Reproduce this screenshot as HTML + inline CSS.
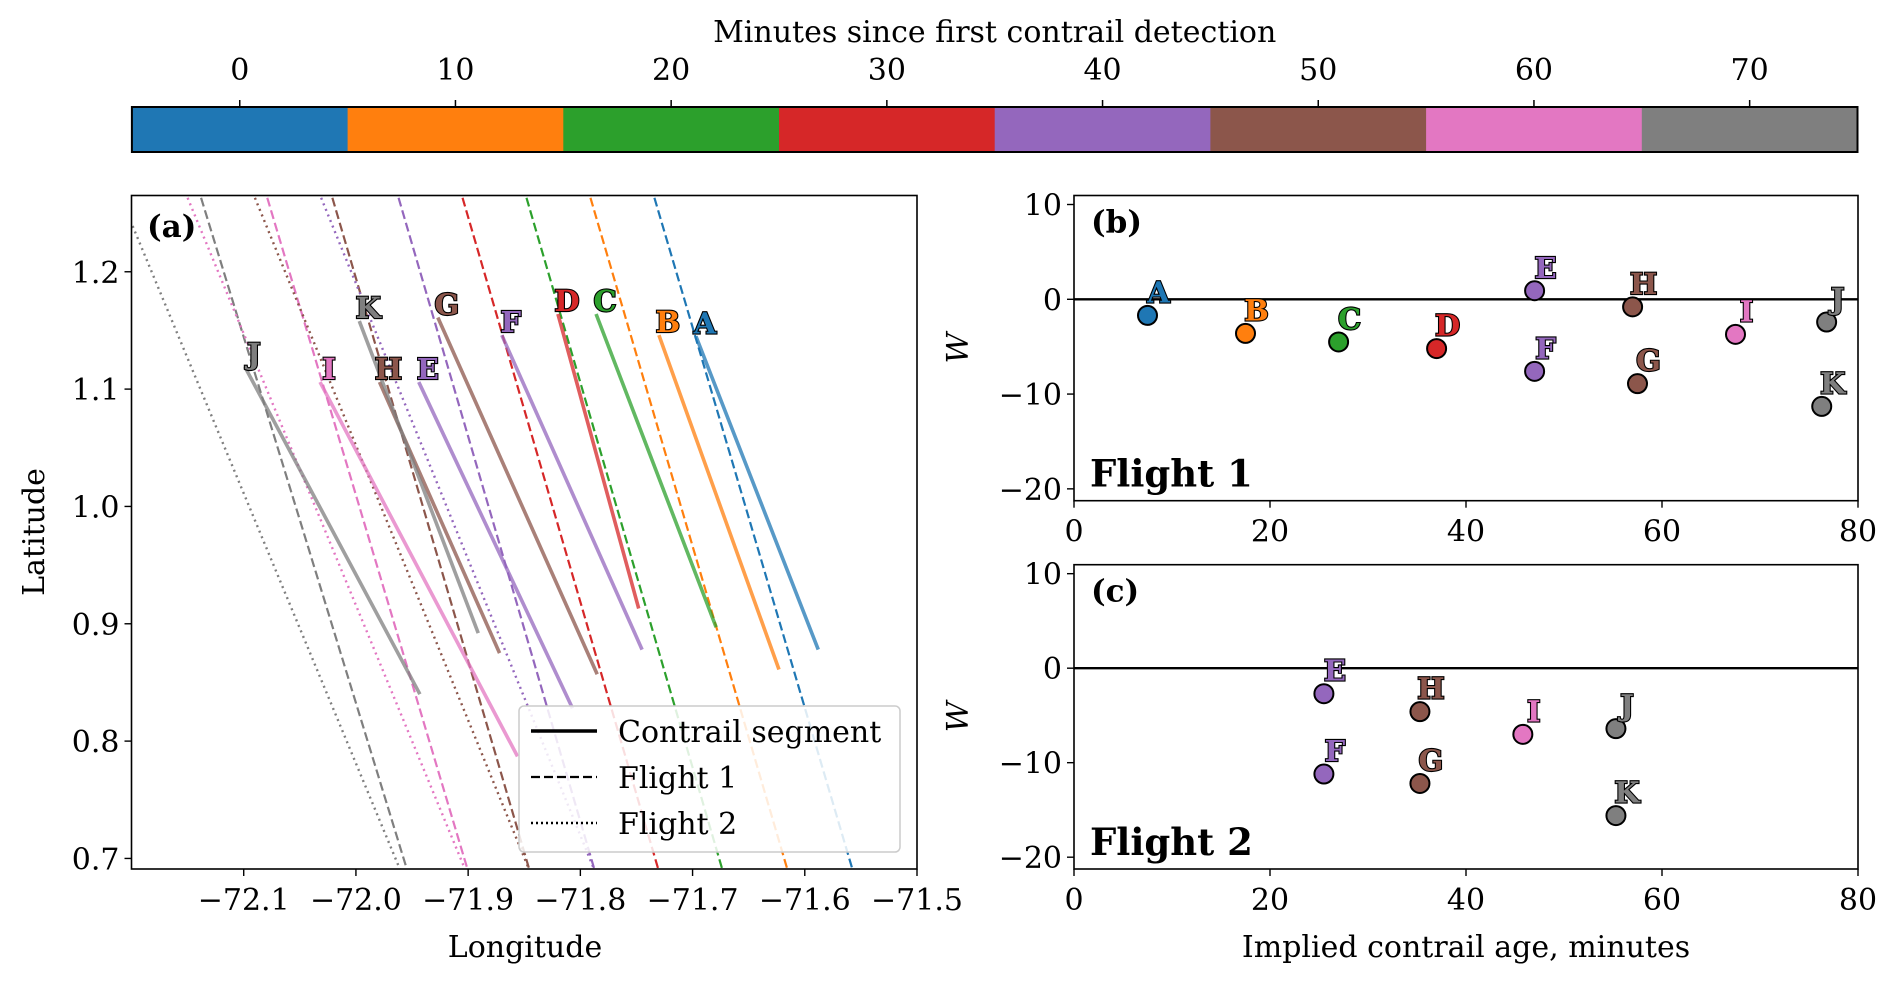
<!DOCTYPE html>
<html><head><meta charset="utf-8"><style>
html,body{margin:0;padding:0;background:#fff;}
svg{display:block;font-family:"DejaVu Serif","Liberation Serif",serif;}
.lab{font-weight:bold;paint-order:stroke;stroke:#000;stroke-width:2.2px;}
</style></head><body>
<svg id="fig" width="1892" height="984" viewBox="0 0 1892 984" xmlns="http://www.w3.org/2000/svg"></svg>
<script>
// ---------- data ----------
const letters = ["A","B","C","D","E","F","G","H","I","J","K"];
const letterColors = ["#1f77b4","#ff7f0e","#2ca02c","#d62728","#9467bd","#9467bd","#8c564b","#8c564b","#e377c2","#7f7f7f","#7f7f7f"];
const segLon1 = [-71.697,-71.730,-71.786,-71.820,-71.944,-71.870,-71.927,-71.979,-72.032,-72.099,-71.997];
const segLat1 = [1.145,1.146,1.164,1.164,1.106,1.146,1.161,1.106,1.106,1.119,1.158];
const segLon2 = [-71.588,-71.623,-71.679,-71.748,-71.807,-71.745,-71.785,-71.872,-71.856,-71.943,-71.891];
const segLat2 = [0.878,0.861,0.897,0.913,0.828,0.878,0.857,0.875,0.787,0.840,0.892];
const cbColors = ["#1f77b4","#ff7f0e","#2ca02c","#d62728","#9467bd","#8c564b","#e377c2","#7f7f7f"];
const f1Colors = ["#1f77b4","#ff7f0e","#2ca02c","#d62728","#9467bd","#8c564b","#e377c2","#7f7f7f"];
const f1TopLon = [-71.734,-71.791,-71.848,-71.905,-71.962,-72.021,-72.079,-72.138];
const f1BotLon = [-71.557,-71.615,-71.673,-71.730,-71.787,-71.845,-71.900,-71.954];
const f2Colors = ["#9467bd","#8c564b","#e377c2","#7f7f7f"];
const f2TopLon = [-72.031,-72.090,-72.150,-72.199];
const f2TopLat = [1.263,1.263,1.263,1.239];
const f2BotLon = [-71.787,-71.845,-71.902,-71.960];
const lineTopLat = 1.263, lineBotLat = 0.689;
const bAge = [7.5,17.5,27,37,47,47,57.5,57,67.5,76.8,76.3];
const bW = [-1.7,-3.6,-4.5,-5.2,0.9,-7.6,-8.9,-0.8,-3.7,-2.4,-11.3];
const cLetters = ["E","F","G","H","I","J","K"];
const cColors = ["#9467bd","#9467bd","#8c564b","#8c564b","#e377c2","#7f7f7f","#7f7f7f"];
const cAge = [25.5,25.5,35.3,35.3,45.8,55.3,55.3];
const cW = [-2.7,-11.2,-12.2,-4.6,-7,-6.4,-15.6];
const cbTicks = [0,10,20,30,40,50,60,70];
const lonTicks = [-72.1,-72.0,-71.9,-71.8,-71.7,-71.6,-71.5];
const latTicks = [0.7,0.8,0.9,1.0,1.1,1.2];
const ageTicks = [0,20,40,60,80];
const wTicks = [-20,-10,0,10];

// ---------- helpers ----------
const svg = document.getElementById('fig');
const NS = "http://www.w3.org/2000/svg";
const FS = 30;
function el(tag, attrs, parent){const e=document.createElementNS(NS,tag);for(const k in attrs)e.setAttribute(k,attrs[k]);(parent||svg).appendChild(e);return e;}
function txt(s, attrs, parent){const e=el('text',attrs,parent);e.textContent=s;return e;}
function fmt(v){return (v<0?"\u2212":"")+Math.abs(v).toString();}
function fmt1(v){return (v<0?"\u2212":"")+Math.abs(v).toFixed(1);}

// ---------- colorbar ----------
const cbL=131.9, cbR=1857.5, cbT=107, cbB=152;
const cbX = v => cbL + (v+5)/80*(cbR-cbL);
const cbG = el('g',{});


cbColors.forEach((c,i)=>{
  const r=el('rect',{x:cbX(i*10-5),y:cbT,width:cbX(i*10+5)-cbX(i*10-5)+0.5,height:cbB-cbT,fill:c},cbG);
  
  
});
el('rect',{x:cbL,y:cbT,width:cbR-cbL,height:cbB-cbT,fill:'none',stroke:'#000','stroke-width':2},cbG);
cbTicks.forEach(t=>{
  el('line',{x1:cbX(t),x2:cbX(t),y1:cbT,y2:cbT-7,stroke:'#000','stroke-width':1.5},cbG);
  const tl=txt(String(t),{x:cbX(t),y:80,'font-size':FS,'text-anchor':'middle'},cbG);
  
  
});
const cbt=txt("Minutes since first contrail detection",{x:(cbL+cbR)/2,y:42,'font-size':FS,'text-anchor':'middle'},cbG);



// ---------- panel a ----------
const aL=131.5,aR=917,aT=195.5,aB=869;
const aLon0=-72.2,aLon1=-71.5,aLat0=0.691,aLat1=1.265;
const ax = v => aL + (v-aLon0)/(aLon1-aLon0)*(aR-aL);
const ay = v => aB - (v-aLat0)/(aLat1-aLat0)*(aB-aT);
const pa = el('g',{});


const cp = el('clipPath',{id:'clipA'},pa);
el('rect',{x:aL,y:aT,width:aR-aL,height:aB-aT},cp);
const aIn = el('g',{'clip-path':'url(#clipA)'},pa);
f1Colors.forEach((c,i)=>{
  const l=el('line',{x1:ax(f1TopLon[i]),y1:ay(lineTopLat),x2:ax(f1BotLon[i]),y2:ay(lineBotLat),stroke:c,'stroke-width':2.2,'stroke-dasharray':'9,4'},aIn);
  
  
});
f2Colors.forEach((c,i)=>{
  const l=el('line',{x1:ax(f2TopLon[i]),y1:ay(f2TopLat[i]),x2:ax(f2BotLon[i]),y2:ay(lineBotLat),stroke:c,'stroke-width':2.4,'stroke-dasharray':'2,4'},aIn);
  
  
});
letters.forEach((L,i)=>{
  const l=el('line',{x1:ax(segLon1[i]),y1:ay(segLat1[i]),x2:ax(segLon2[i]),y2:ay(segLat2[i]),stroke:letterColors[i],'stroke-width':3.6,'stroke-opacity':0.75},aIn);
  
  
});
letters.forEach((L,i)=>{
  const t=txt(L,{x:ax(segLon1[i])+9,y:ay(segLat1[i])-3,'font-size':29,'text-anchor':'middle',fill:letterColors[i],class:'lab'},pa);
  
  
});
el('rect',{x:aL,y:aT,width:aR-aL,height:aB-aT,fill:'none',stroke:'#000','stroke-width':1.6},pa);
lonTicks.forEach(t=>{
  el('line',{x1:ax(t),x2:ax(t),y1:aB,y2:aB+7,stroke:'#000','stroke-width':1.4},pa);
  const tl=txt(fmt1(t),{x:ax(t),y:aB+41,'font-size':FS,'text-anchor':'middle'},pa);
  
  
});
latTicks.forEach(t=>{
  el('line',{x1:aL,x2:aL-7,y1:ay(t),y2:ay(t),stroke:'#000','stroke-width':1.4},pa);
  const tl=txt(t.toFixed(1),{x:aL-12,y:ay(t)+11,'font-size':FS,'text-anchor':'end'},pa);
  
  
});
const lt=txt("(a)",{x:147,y:237,'font-size':31,'font-weight':'bold'},pa);


const xt=txt("Longitude",{x:525,y:957,'font-size':FS,'text-anchor':'middle'},pa);


const yt=txt("Latitude",{x:0,y:0,'font-size':FS,'text-anchor':'middle',transform:'translate(44,532) rotate(-90)'},pa);


// legend
const lg=el('g',{},pa);


el('rect',{x:519,y:706,width:381,height:146,rx:5,fill:'#fff','fill-opacity':0.85,stroke:'#ccc','stroke-width':1.5},lg);
const legY=[731,777,823], legLab=["Contrail segment","Flight 1","Flight 2"], legDash=['none','9,4','2,3'], legW=[3.6,2.2,2.4];
legLab.forEach((s,i)=>{
  el('line',{x1:531,x2:597,y1:legY[i],y2:legY[i],stroke:'#000','stroke-width':legW[i],'stroke-dasharray':legDash[i]},lg);
  const t=txt(s,{x:618,y:legY[i]+11,'font-size':FS},lg);
  
  
});

// ---------- panels b & c ----------
function scatterPanel(name, T, B, labs, cols, ages, ws, tag, flight, showXTitle){
  const L=1074,R=1858, w0=-21.25, w1=10.95;
  const sx = v => L + v/80*(R-L);
  const sy = v => B - (v-w0)/(w1-w0)*(B-T);
  const g=el('g',{});
  
  
  el('line',{x1:L,x2:R,y1:sy(0),y2:sy(0),stroke:'#000','stroke-width':2.4},g);
  labs.forEach((Lb,i)=>{
    const c=el('circle',{cx:sx(ages[i]),cy:sy(ws[i]),r:9.5,fill:cols[i],stroke:'#000','stroke-width':2},g);
    
    
    const t=txt(Lb,{x:sx(ages[i])+11,y:sy(ws[i])-13,'font-size':29,'text-anchor':'middle',fill:cols[i],class:'lab'},g);
    
    
  });
  el('rect',{x:L,y:T,width:R-L,height:B-T,fill:'none',stroke:'#000','stroke-width':1.6},g);
  ageTicks.forEach(t=>{
    el('line',{x1:sx(t),x2:sx(t),y1:B,y2:B+7,stroke:'#000','stroke-width':1.4},g);
    const tl=txt(String(t),{x:sx(t),y:B+41,'font-size':FS,'text-anchor':'middle'},g);
    
    
  });
  wTicks.forEach(t=>{
    el('line',{x1:L,x2:L-7,y1:sy(t),y2:sy(t),stroke:'#000','stroke-width':1.4},g);
    const tl=txt(fmt(t),{x:L-12,y:sy(t)+11,'font-size':FS,'text-anchor':'end'},g);
    
    
  });
  const tg=txt(tag,{x:1091,y:T+37,'font-size':31,'font-weight':'bold'},g);
  
  
  const fl=txt(flight,{x:1090,y:B-14,'font-size':37,'font-weight':'bold'},g);
  
  
  const yl=txt("W",{x:0,y:0,'font-size':FS,'font-style':'italic','text-anchor':'middle',transform:'translate(968,'+((T+B)/2)+') rotate(-90)'},g);
  
  
  if(showXTitle){
    const xl=txt("Implied contrail age, minutes",{x:(L+R)/2,y:957,'font-size':FS,'text-anchor':'middle'},g);
    
    
  }
}
scatterPanel('panel-b-flight1',195.5,500.7,letters,letterColors,bAge,bW,"(b)","Flight 1",false);
scatterPanel('panel-c-flight2',564.7,869,cLetters,cColors,cAge,cW,"(c)","Flight 2",true);
</script>
</body></html>
